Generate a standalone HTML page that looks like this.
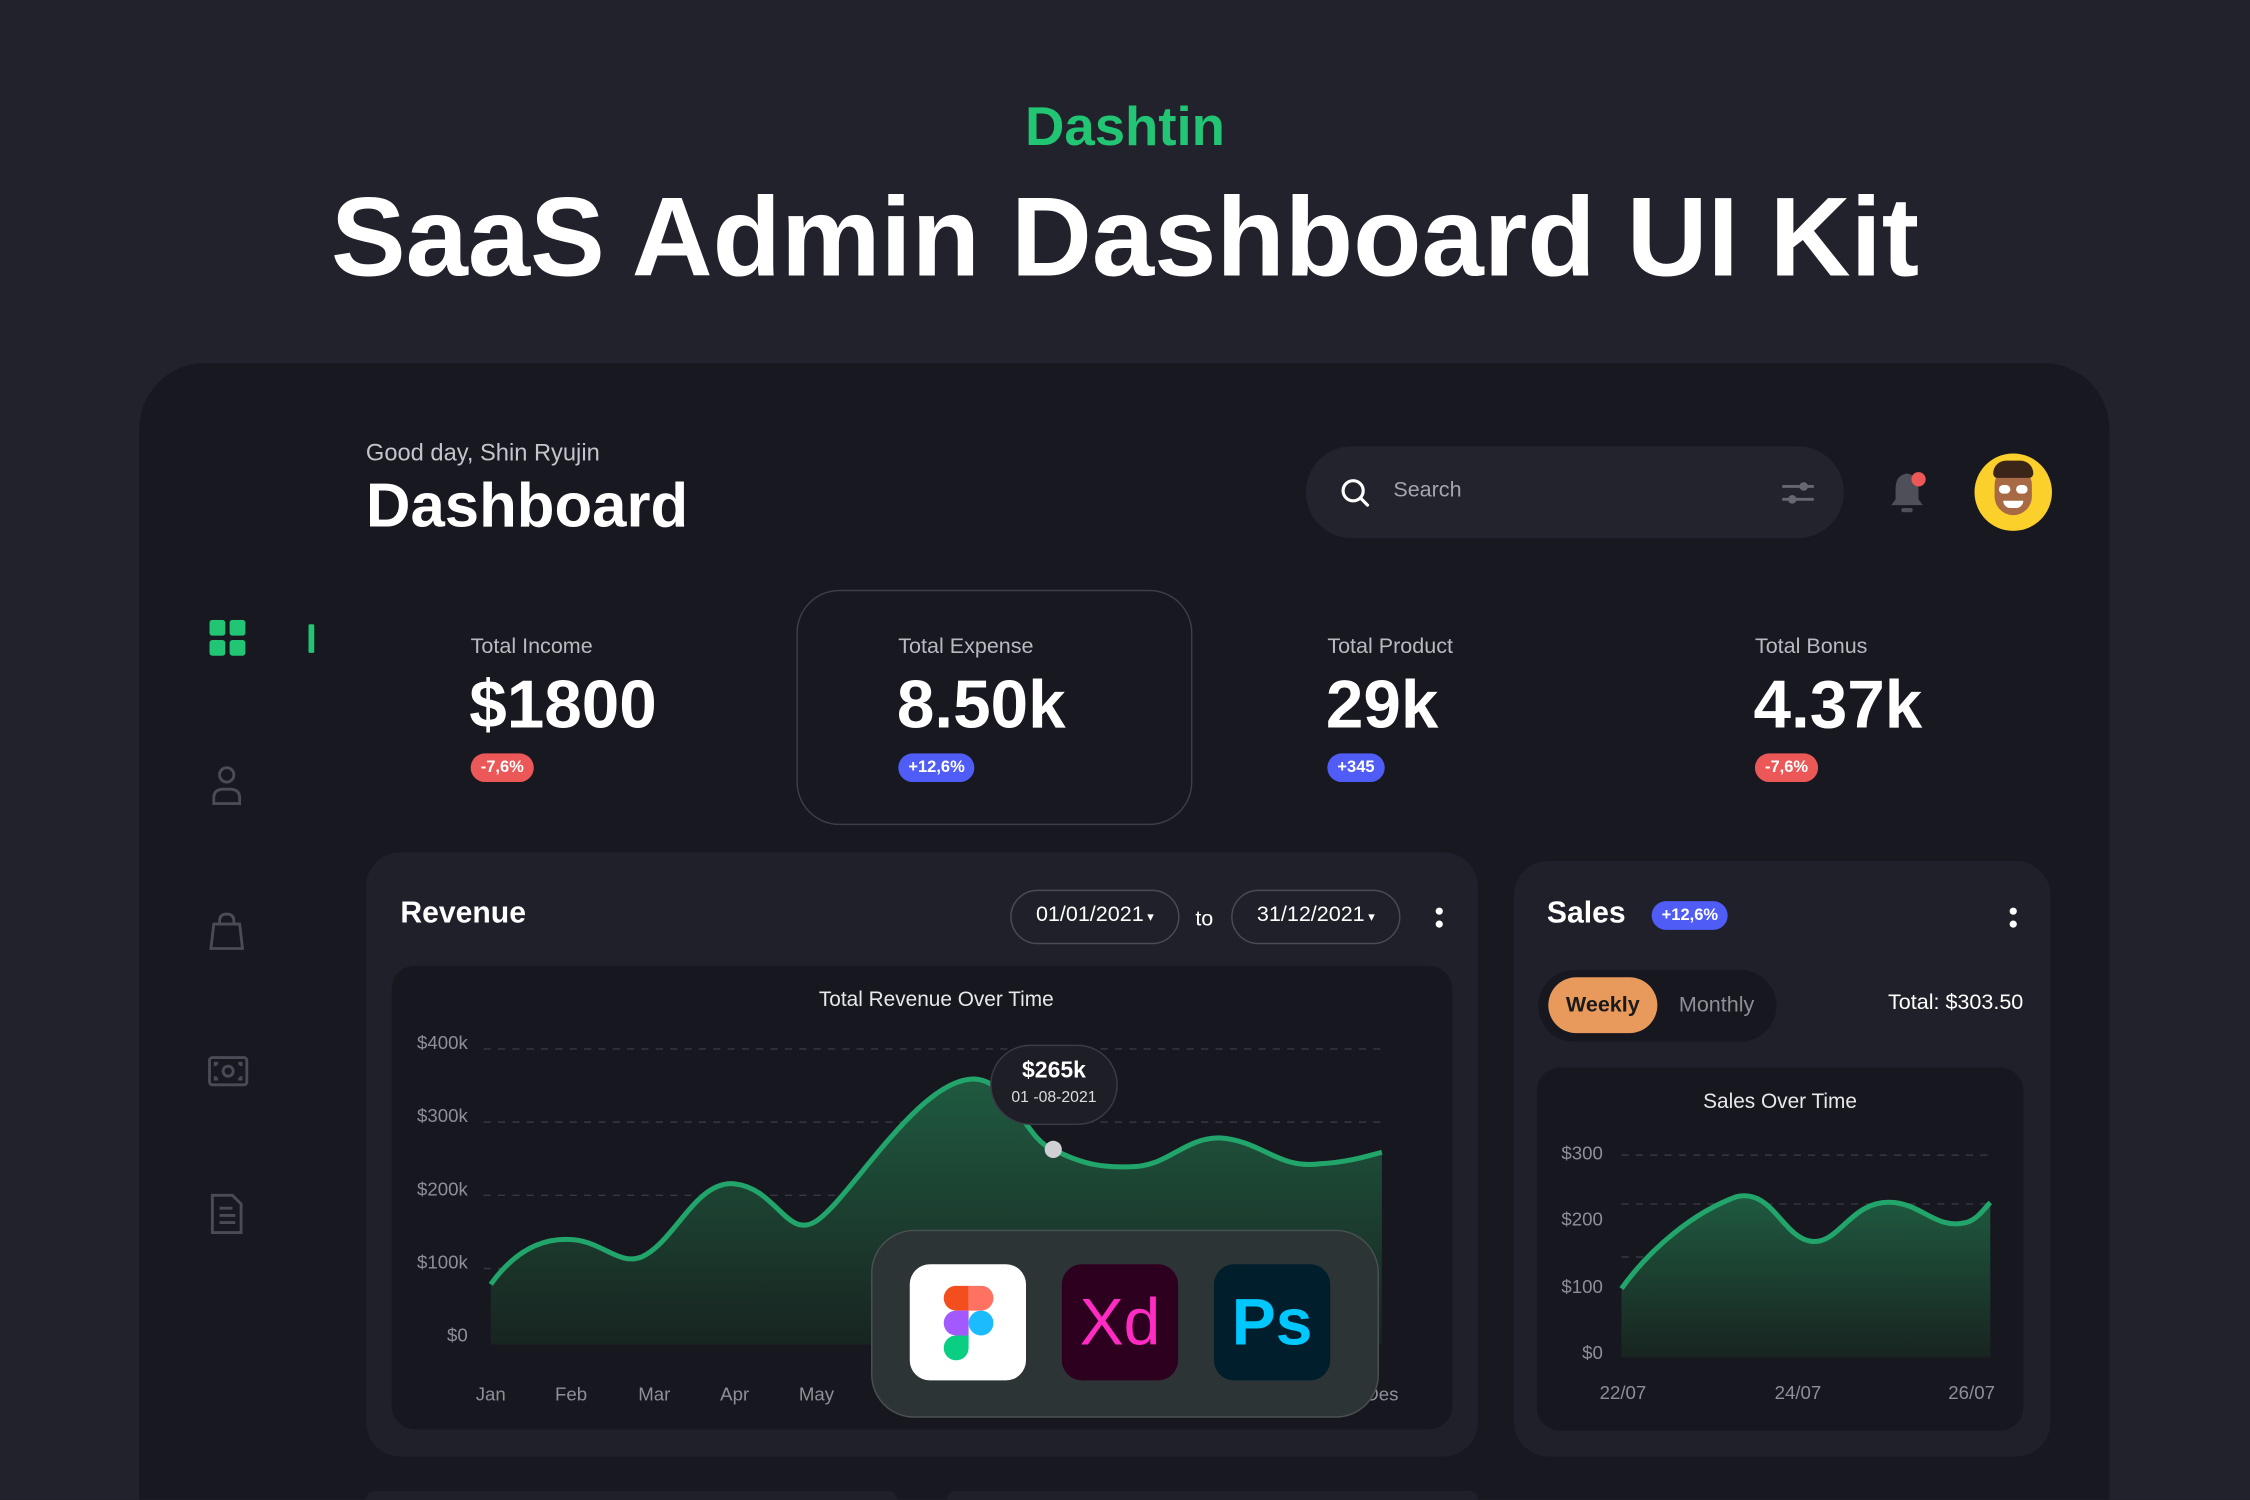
<!DOCTYPE html>
<html><head><meta charset="utf-8">
<style>
*{margin:0;padding:0;box-sizing:border-box}
html,body{width:2250px;height:1500px;overflow:hidden;background:#21222b}
body{font-family:"Liberation Sans",sans-serif;color:#fff}
#s{position:absolute;left:0;top:0;width:1568px;height:1045px;overflow:hidden;transform:scale(1.43495);transform-origin:0 0;background:#21222b}
.a{position:absolute}
.t{white-space:nowrap}
.badge{position:absolute;height:20px;border-radius:10px;font-size:11.5px;font-weight:bold;line-height:20px;padding:0 7px;color:#fff}
.red{background:#ec5757}.blue{background:#4f5cf5}
.lbl{font-size:15px;color:#b9bac0}
.val{font-size:47px;font-weight:bold;letter-spacing:0px}
.pill{position:absolute;border:1.5px solid #4a4b54;border-radius:19px;font-size:15px;text-align:center;line-height:34px}
.ax{position:absolute;font-size:13px;color:#8e8f96}
</style></head><body>
<div id="s">
<div class="a t" style="left:0;width:1568px;top:68px;text-align:center;font-size:38px;font-weight:bold;color:#22c573">Dashtin</div>
<div class="a t" style="left:0;width:1568px;top:120px;text-align:center;font-size:78px;font-weight:bold">SaaS Admin Dashboard UI Kit</div>

<div class="a" style="left:97px;top:253px;width:1373px;height:792px;background:#171820;border-radius:46px 46px 0 0"></div>

<div class="a t" style="left:255px;top:307px;font-size:16.5px;color:#c4c5ca">Good day, Shin Ryujin</div>
<div class="a t" style="left:255px;top:329px;font-size:43px;font-weight:bold">Dashboard</div>

<div class="a" style="left:910px;top:311px;width:375px;height:64px;background:#22232c;border-radius:32px"></div>
<svg class="a" style="left:932px;top:331px" width="24" height="24" viewBox="0 0 24 24"><circle cx="11" cy="11" r="7" stroke="#fff" stroke-width="2.2" fill="none"/><line x1="16" y1="16" x2="21" y2="21" stroke="#fff" stroke-width="2.2" stroke-linecap="round"/></svg>
<div class="a t" style="left:971px;top:333px;font-size:15px;color:#a5a6ad">Search</div>
<svg class="a" style="left:1240px;top:331px" width="26" height="24"><line x1="2" y1="8" x2="24" y2="8" stroke="#666770" stroke-width="2"/><circle cx="17" cy="8" r="3" fill="#666770"/><line x1="2" y1="17" x2="24" y2="17" stroke="#666770" stroke-width="2"/><circle cx="9" cy="17" r="3" fill="#666770"/></svg>
<svg class="a" style="left:1314px;top:326px" width="34" height="34" viewBox="0 0 34 34"><path d="M15 4 C8 5 7 10 7 16 L7 22 L4 26 L26 26 L23 22 L23 16 C23 10 21 5 15 4Z" fill="#4e4f58"/><rect x="11" y="28" width="8" height="3" rx="1.5" fill="#4e4f58"/><circle cx="23" cy="8" r="5" fill="#ec5757"/></svg>
<div class="a" style="left:1376px;top:316px;width:54px;height:54px;border-radius:50%;background:#fcd02a;overflow:hidden">
<div class="a" style="left:14px;top:9px;width:26px;height:34px;border-radius:13px;background:#a86a45"></div>
<div class="a" style="left:13px;top:5px;width:28px;height:12px;border-radius:12px 12px 4px 4px;background:#3a2518"></div>
<div class="a" style="left:17px;top:22px;width:8px;height:6px;border-radius:3px;background:#fff"></div>
<div class="a" style="left:29px;top:22px;width:8px;height:6px;border-radius:3px;background:#fff"></div>
<div class="a" style="left:20px;top:33px;width:14px;height:5px;border-radius:0 0 7px 7px;background:#fff"></div>
</div>

<svg class="a" style="left:146px;top:432px" width="26" height="26"><rect x="0" y="0" width="11" height="11" rx="2" fill="#22c573"/><rect x="14" y="0" width="11" height="11" rx="2" fill="#22c573"/><rect x="0" y="14" width="11" height="11" rx="2" fill="#22c573"/><rect x="14" y="14" width="11" height="11" rx="2" fill="#22c573"/></svg>
<div class="a" style="left:215px;top:435px;width:4px;height:20px;background:#22c573;border-radius:1px"></div>
<svg class="a" style="left:144px;top:532px" width="28" height="30" fill="none" stroke="#4a4b54" stroke-width="2"><circle cx="14" cy="8" r="5"/><path d="M5 28 V24 Q5 18 12 18 H16 Q23 18 23 24 V28Z"/></svg>
<svg class="a" style="left:144px;top:634px" width="30" height="30" fill="none" stroke="#4a4b54" stroke-width="2"><path d="M9 10 V8 Q9 3 14 3 Q19 3 19 8 V10"/><path d="M5 10 H23 L25 27 H3Z"/></svg>
<svg class="a" style="left:144px;top:735px" width="30" height="24" fill="none" stroke="#4a4b54" stroke-width="2"><rect x="2" y="2" width="26" height="19" rx="2"/><circle cx="15" cy="11.5" r="3.5"/><path d="M6 8V6H8M22 6h2v2M6 15v2h2M24 15v2h-2"/></svg>
<svg class="a" style="left:145px;top:831px" width="26" height="30" fill="none" stroke="#4a4b54" stroke-width="2"><path d="M3 2 H17 L23 8 V28 H3Z"/><path d="M8 11h9M8 16h11M8 21h11"/></svg>

<div class="a" style="left:555px;top:411px;width:276px;height:164px;border:1.5px solid #3d3e47;border-radius:30px"></div>
<div class="a t lbl" style="left:328px;top:442px">Total Income</div>
<div class="a t val" style="left:327px;top:463px">$1800</div>
<div class="badge red" style="left:328px;top:525px">-7,6%</div>
<div class="a t lbl" style="left:626px;top:442px">Total Expense</div>
<div class="a t val" style="left:625px;top:463px">8.50k</div>
<div class="badge blue" style="left:626px;top:525px">+12,6%</div>
<div class="a t lbl" style="left:925px;top:442px">Total Product</div>
<div class="a t val" style="left:924px;top:463px">29k</div>
<div class="badge blue" style="left:925px;top:525px">+345</div>
<div class="a t lbl" style="left:1223px;top:442px">Total Bonus</div>
<div class="a t val" style="left:1222px;top:463px">4.37k</div>
<div class="badge red" style="left:1223px;top:525px">-7,6%</div>

<div class="a" style="left:255px;top:594px;width:775px;height:421px;background:#1f2029;border-radius:24px"></div>
<div class="a t" style="left:279px;top:625px;font-size:21px;font-weight:bold">Revenue</div>
<div class="pill" style="left:704px;top:620px;width:118px;height:38px">01/01/2021<span style="font-size:9px"> ▾</span></div>
<div class="a t" style="left:833px;top:632px;font-size:15px">to</div>
<div class="pill" style="left:858px;top:620px;width:118px;height:38px">31/12/2021<span style="font-size:9px"> ▾</span></div>
<svg class="a" style="left:998px;top:630px" width="10" height="22"><circle cx="5" cy="5" r="2.5" fill="#fff"/><circle cx="5" cy="14" r="2.5" fill="#fff"/></svg>
<div class="a" style="left:273px;top:673px;width:739px;height:323px;background:#17181f;border-radius:16px"></div>
<div class="a t" style="left:273px;width:759px;top:689px;text-align:center;font-size:14.5px;color:#e8e8ea">Total Revenue Over Time</div>
<div class="ax" style="left:270px;width:56px;text-align:right;top:719px">$400k</div>
<div class="ax" style="left:270px;width:56px;text-align:right;top:770px">$300k</div>
<div class="ax" style="left:270px;width:56px;text-align:right;top:821px">$200k</div>
<div class="ax" style="left:270px;width:56px;text-align:right;top:872px">$100k</div>
<div class="ax" style="left:270px;width:56px;text-align:right;top:923px">$0</div>
<svg class="a" style="left:0;top:0" width="1568" height="1040">
<defs>
<linearGradient id="g1" x1="0" y1="0" x2="0" y2="1"><stop offset="0" stop-color="#1f5a40"/><stop offset="1" stop-color="#182420"/></linearGradient>
</defs>
<g stroke="#363741" stroke-width="1" stroke-dasharray="5 5"><line x1="337" y1="731" x2="965" y2="731"/><line x1="337" y1="782" x2="965" y2="782"/><line x1="337" y1="833" x2="965" y2="833"/><line x1="337" y1="884" x2="965" y2="884"/></g>
<path d="M342 937 L342 895 C360 870 380 862 400 864 C420 866 432 882 447 876 C470 866 485 822 512 825 C540 828 548 862 567 852 C590 840 640 750 680 752 C705 754 715 795 734 801 C755 812 770 814 790 813 C815 812 825 793 850 793 C880 795 890 815 920 811 C940 810 955 805 963 803 L963 937Z" fill="url(#g1)"/>
<path d="M342 895 C360 870 380 862 400 864 C420 866 432 882 447 876 C470 866 485 822 512 825 C540 828 548 862 567 852 C590 840 640 750 680 752 C705 754 715 795 734 801 C755 812 770 814 790 813 C815 812 825 793 850 793 C880 795 890 815 920 811 C940 810 955 805 963 803" fill="none" stroke="#22a56a" stroke-width="3.5"/>
<circle cx="734" cy="801" r="6" fill="#d0d0d4"/>
</svg>
<div class="a" style="left:690px;top:728px;width:89px;height:56px;background:#1d1e26;border:1.5px solid #3b3c45;border-radius:28px;text-align:center">
<div style="font-size:16px;font-weight:bold;margin-top:9px">$265k</div>
<div style="font-size:11px;color:#ddd;margin-top:3px">01 -08-2021</div></div>
<div class="ax" style="left:328px;width:28px;text-align:center;top:964px">Jan</div>
<div class="ax" style="left:384px;width:28px;text-align:center;top:964px">Feb</div>
<div class="ax" style="left:442px;width:28px;text-align:center;top:964px">Mar</div>
<div class="ax" style="left:498px;width:28px;text-align:center;top:964px">Apr</div>
<div class="ax" style="left:555px;width:28px;text-align:center;top:964px">May</div>
<div class="ax" style="left:949px;width:28px;text-align:center;top:964px">Des</div>
<div class="a" style="left:607px;top:857px;width:354px;height:131px;background:#2d3436;border:1.5px solid #4a5152;border-radius:30px"></div>
<div class="a" style="left:634px;top:881px;width:81px;height:81px;background:#fff;border-radius:14px"></div>
<svg class="a" style="left:656px;top:896px" width="38" height="52" viewBox="0 0 38 57"><path d="M19 0H9.5a9.5 9.5 0 0 0 0 19H19z" fill="#f24e1e"/><path d="M19 0h9.5a9.5 9.5 0 0 1 0 19H19z" fill="#ff7262"/><path d="M19 19H9.5a9.5 9.5 0 0 0 0 19H19z" fill="#a259ff"/><circle cx="28.5" cy="28.5" r="9.5" fill="#1abcfe"/><path d="M19 38H9.5a9.5 9.5 0 1 0 9.5 9.5z" fill="#0acf83"/></svg>
<div class="a" style="left:740px;top:881px;width:81px;height:81px;background:#2e001f;border-radius:14px;text-align:center;font-size:46px;color:#ff2bc2;line-height:81px">Xd</div>
<div class="a" style="left:846px;top:881px;width:81px;height:81px;background:#001e2b;border-radius:14px;text-align:center;font-size:46px;font-weight:bold;color:#00c8ff;line-height:81px">Ps</div>

<div class="a" style="left:1055px;top:600px;width:374px;height:415px;background:#1f2029;border-radius:24px"></div>
<div class="a t" style="left:1078px;top:625px;font-size:21px;font-weight:bold">Sales</div>
<div class="badge blue" style="left:1151px;top:628px">+12,6%</div>
<svg class="a" style="left:1398px;top:630px" width="10" height="22"><circle cx="5" cy="5" r="2.5" fill="#fff"/><circle cx="5" cy="14" r="2.5" fill="#fff"/></svg>
<div class="a" style="left:1072px;top:676px;width:166px;height:50px;background:#17181f;border-radius:25px"></div>
<div class="a" style="left:1079px;top:681px;width:76px;height:39px;background:#e89a5c;border-radius:20px;text-align:center;line-height:39px;font-size:15px;font-weight:bold;color:#1a1a1a">Weekly</div>
<div class="a t" style="left:1170px;top:692px;font-size:15px;color:#8e8f96">Monthly</div>
<div class="a t" style="left:1260px;width:150px;text-align:right;top:690px;font-size:15px">Total: $303.50</div>
<div class="a" style="left:1071px;top:744px;width:339px;height:253px;background:#17181f;border-radius:16px"></div>
<div class="a t" style="left:1071px;width:339px;text-align:center;top:760px;font-size:14.5px;color:#e8e8ea">Sales Over Time</div>
<div class="ax" style="left:1070px;width:47px;text-align:right;top:796px">$300</div>
<div class="ax" style="left:1070px;width:47px;text-align:right;top:842px">$200</div>
<div class="ax" style="left:1070px;width:47px;text-align:right;top:889px">$100</div>
<div class="ax" style="left:1070px;width:47px;text-align:right;top:935px">$0</div>
<svg class="a" style="left:0;top:0" width="1568" height="1040">
<defs><linearGradient id="g2" x1="0" y1="0" x2="0" y2="1"><stop offset="0" stop-color="#1f5a40"/><stop offset="1" stop-color="#182420"/></linearGradient></defs>
<g stroke="#363741" stroke-width="1" stroke-dasharray="5 5"><line x1="1130" y1="805" x2="1387" y2="805"/><line x1="1130" y1="839" x2="1387" y2="839"/><line x1="1130" y1="876" x2="1387" y2="876"/><line x1="1130" y1="910" x2="1387" y2="910"/></g>
<path d="M1130 946 L1130 898 C1150 870 1180 845 1210 834 C1235 828 1242 862 1262 865 C1282 868 1290 835 1320 838 C1340 840 1350 857 1370 852 C1378 850 1383 842 1387 838 L1387 946Z" fill="url(#g2)"/>
<path d="M1130 898 C1150 870 1180 845 1210 834 C1235 828 1242 862 1262 865 C1282 868 1290 835 1320 838 C1340 840 1350 857 1370 852 C1378 850 1383 842 1387 838" fill="none" stroke="#22a56a" stroke-width="3.5"/>
</svg>
<div class="ax" style="left:1106px;width:50px;text-align:center;top:963px">22/07</div>
<div class="ax" style="left:1228px;width:50px;text-align:center;top:963px">24/07</div>
<div class="ax" style="left:1349px;width:50px;text-align:center;top:963px">26/07</div>

<div class="a" style="left:255px;top:1039px;width:370px;height:6px;background:#1f2029;border-radius:6px 6px 0 0"></div>
<div class="a" style="left:660px;top:1039px;width:370px;height:6px;background:#1f2029;border-radius:6px 6px 0 0"></div>
</div>
</body></html>
